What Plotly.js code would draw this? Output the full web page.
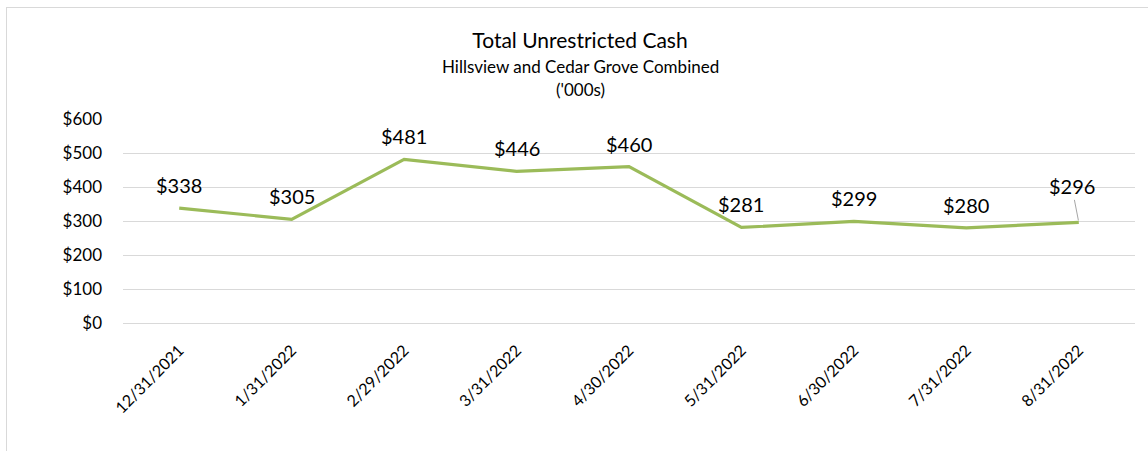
<!DOCTYPE html>
<html>
<head>
<meta charset="utf-8">
<script src="https://cdn.plot.ly/plotly-3.0.1.min.js"></script>
<style>
  body { margin: 0; background: #fff; }
  #chart { width: 1148px; height: 451px; position: absolute; left: 0; top: 0; }
  #frame { position: absolute; left: 6px; top: 7px; width: 1160px; height: 460px;
           border: 1px solid #d9d9d9; pointer-events: none; }
</style>
</head>
<body>
<div id="chart"></div>
<div id="frame"></div>
<script>
// Month-end dates and unrestricted cash ('000s)
const dates = ['12/31/2021', '1/31/2022', '2/29/2022', '3/31/2022', '4/30/2022',
               '5/31/2022', '6/30/2022', '7/31/2022', '8/31/2022'];
const cash = [338, 305, 481, 446, 460, 281, 299, 280, 296];
const yTicks = [0, 100, 200, 300, 400, 500, 600];

const font = 'Lato, "Open Sans", sans-serif';
const plotTop = 119, plotBottom = 323;
// convert a pixel row into paper y for the header lines
const toPaper = py => (plotBottom - py) / (plotBottom - plotTop);

const labels = dates.map((d, i) => {
  const last = i === dates.length - 1;
  return {
    x: d, y: cash[i], xref: 'x', yref: 'y',
    text: '$' + cash[i],
    font: { family: font, size: 20, color: '#000' },
    showarrow: last,
    arrowhead: 0, arrowwidth: 1, arrowcolor: '#a6a6a6',
    ax: -7, ay: -36, standoff: 2,
    yshift: last ? 0 : 23
  };
});

const header = [
  { text: 'Hillsview and Cedar Grove Combined', y: toPaper(66), size: 17 },
  { text: "('000s)", y: toPaper(89), size: 17 }
].map(h => ({
  text: h.text, xref: 'paper', yref: 'paper', x: (580 - 123) / (1135 - 123), y: h.y,
  xanchor: 'center', yanchor: 'middle', showarrow: false,
  font: { family: font, size: h.size, color: '#000' }
}));

Plotly.newPlot('chart', [{
  x: dates,
  y: cash,
  type: 'scatter',
  mode: 'lines',
  line: { color: '#9bbb59', width: 3.2 },
  hoverinfo: 'x+y'
}], {
  width: 1148,
  height: 451,
  margin: { l: 123, r: 13, t: plotTop, b: 451 - plotBottom },
  title: {
    text: 'Total Unrestricted Cash',
    x: 580 / 1148, xanchor: 'center',
    y: 1 - 41 / 451, yanchor: 'middle', yref: 'container',
    font: { family: font, size: 21, color: '#000' }
  },
  showlegend: false,
  xaxis: {
    type: 'category',
    range: [-0.5, dates.length - 0.5],
    tickangle: -45,
    tickfont: { family: font, size: 16, color: '#000' },
    showgrid: false,
    showline: false,
    ticks: '',
    ticklabelstandoff: 14
  },
  yaxis: {
    range: [0, 600],
    tickvals: yTicks,
    ticktext: yTicks.map(v => '$' + v),
    tickfont: { family: font, size: 17, color: '#000' },
    gridcolor: '#d9d9d9',
    gridwidth: 1,
    zeroline: true,
    zerolinecolor: '#d9d9d9',
    zerolinewidth: 1,
    showline: false,
    ticks: '',
    ticklabelstandoff: 20
  },
  annotations: labels.concat(header),
  plot_bgcolor: '#fff',
  paper_bgcolor: '#fff'
}, { displayModeBar: false });
</script>
</body>
</html>
